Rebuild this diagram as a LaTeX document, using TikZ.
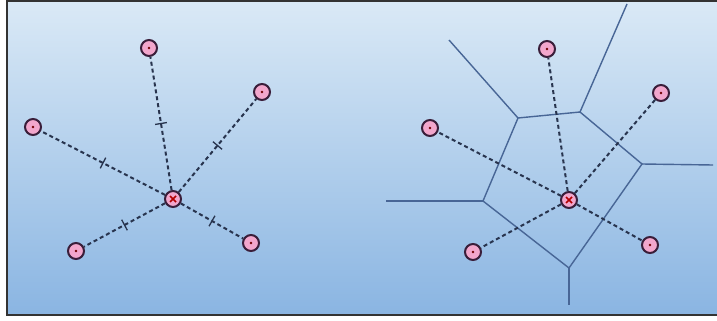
\documentclass[tikz,border=0pt]{standalone}
\usepackage{xcolor}
\usetikzlibrary{positioning,calc}

\definecolor{skytop}{RGB}{218,233,246}
\definecolor{skybot}{RGB}{138,181,226}
\definecolor{ptfill}{RGB}{242,166,204}
\definecolor{ptline}{RGB}{58,30,58}
\definecolor{dashc}{RGB}{40,52,78}
\definecolor{cellc}{RGB}{72,102,150}

\begin{document}
\begin{tikzpicture}[x=1pt,y=-1pt,
   pt/.style={circle,draw=ptline,fill=ptfill,line width=2pt,minimum size=16pt,inner sep=0pt,
     path picture={\fill[red!45!black] (path picture bounding box.center) circle (1.3pt);}},
   ctr/.style={circle,draw=ptline,fill=ptfill,line width=2pt,minimum size=16pt,inner sep=0pt,
     path picture={\draw[red!70!black,line width=1.6pt] ($(path picture bounding box.center)+(-3,-3)$) -- ++(6,6)
       ($(path picture bounding box.center)+(3,-3)$) -- ++(-6,6);}},
   lnk/.style={dashc,line width=2pt,dash pattern=on 4pt off 3pt},
   tk/.style={draw=dashc,line width=1.3pt,minimum height=12pt,minimum width=0pt,inner sep=0pt,solid},
   cell/.style={cellc,line width=1.4pt}]
  \useasboundingbox (0,0) rectangle (717,321);
  \shade[top color=skytop,bottom color=skybot] (7,1) rectangle (717,315);
  \draw[black!80,line width=1.6pt] (717,1) -- (7,1) -- (7,315) -- (717,315);

  % left: the five sites and the query point
  \node[ctr] (lc) at (173,199) {};
  \node[pt] (l1) at (149,48) {};
  \node[pt] (l2) at (262,92) {};
  \node[pt] (l3) at (33,127) {};
  \node[pt] (l4) at (76,251) {};
  \node[pt] (l5) at (251,243) {};
  \foreach \p in {l1,l2,l3,l4,l5}
    \draw[lnk] (lc) -- (\p) node[tk,midway,sloped]{};

  % right: the Voronoi cell
  \coordinate (va) at (518,118);
  \coordinate (vb) at (580,112);
  \coordinate (vc) at (642,164);
  \coordinate (vd) at (569,268);
  \coordinate (ve) at (483,201);
  \coordinate (ra) at (449,40);
  \coordinate (rb) at (627,4);
  \coordinate (rc) at (713,165);
  \coordinate (rd) at (569,305);
  \coordinate (re) at (386,201);
  \draw[cell] (va) -- (vb) -- (vc) -- (vd) -- (ve) -- cycle;
  \draw[cell] (va) -- (ra);
  \draw[cell] (vb) -- (rb);
  \draw[cell] (vc) -- (rc);
  \draw[cell] (vd) -- (rd);
  \draw[cell] (ve) -- (re);

  \node[ctr] (rc0) at (569,200) {};
  \node[pt] (r1) at (547,49) {};
  \node[pt] (r2) at (661,93) {};
  \node[pt] (r3) at (430,128) {};
  \node[pt] (r4) at (473,252) {};
  \node[pt] (r5) at (650,245) {};
  \foreach \p in {r1,r2,r3,r4,r5}
    \draw[lnk] (rc0) -- (\p);
\end{tikzpicture}
\end{document}
